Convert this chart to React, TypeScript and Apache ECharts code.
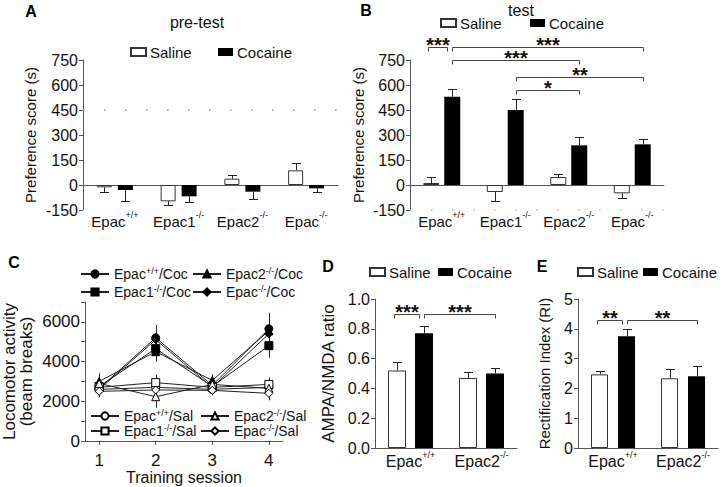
import React, { useEffect, useRef } from 'react';
import * as echarts from 'echarts';

const FONT = '"Liberation Sans", Arial, Helvetica, sans-serif';
const INK = '#111';
const AXIS = '#555';

// ---------- Panels A & B ----------
const genotypes = ['Epac+/+', 'Epac1-/-', 'Epac2-/-', 'Epac-/-'];
const preSaline = [-14, -98, 38, 88];
const preSalineErr = [30, 24, 24, 42];
const preCocaine = [-30, -68, -40, -20];
const preCocaineErr = [66, 36, 44, 24];

const testSaline = [12, -42, 48, -50];
const testSalineErr = [34, 52, 16, 30];
const testCocaine = [530, 450, 238, 244];
const testCocaineErr = [44, 66, 52, 30];
// [fromCategory, fromSide(-1 saline / 1 cocaine), toCategory, toSide, y value, stars]
const testBrackets: any[] = [
  [0, -1, 0, 1, 830, '***'],
  [0, 1, 3, 1, 830, '***'],
  [0, 1, 2, 1, 748, '***'],
  [1, 1, 3, 1, 650, '**'],
  [1, 1, 2, 1, 570, '*'],
];

// ---------- Panel C ----------
const sessions = [1, 2, 3, 4];
const locoNames = [
  'Epac+/+/Coc', 'Epac1-/-/Coc', 'Epac2-/-/Coc', 'Epac-/-/Coc',
  'Epac+/+/Sal', 'Epac1-/-/Sal', 'Epac2-/-/Sal', 'Epac-/-/Sal',
];
const cocWT = [2650, 5200, 2800, 5650];
const cocE1 = [2750, 4650, 2750, 4800];
const cocE2 = [3000, 4500, 3050, 5550];
const cocKO = [2600, 5100, 2700, 5400];
const salWT = [2600, 2700, 2600, 2700];
const salE1 = [2700, 2940, 2700, 2850];
const salE2 = [2900, 2230, 2850, 2650];
const salKO = [2500, 2570, 2550, 2400];
const cocWTErr = [350, 650, 250, 800];
const cocE1Err = [300, 550, 250, 600];
const cocE2Err = [400, 500, 300, 600];
const cocKOErr = [300, 600, 250, 700];
const salWTErr = [300, 400, 250, 350];
const salE1Err = [300, 400, 250, 350];
const salE2Err = [300, 560, 250, 350];
const salKOErr = [300, 400, 250, 350];
const locoValues = [cocWT, cocE1, cocE2, cocKO, salWT, salE1, salE2, salKO];
const locoErrors = [cocWTErr, cocE1Err, cocE2Err, cocKOErr, salWTErr, salE1Err, salE2Err, salKOErr];
const locoSymbols = ['circle', 'rect', 'triangle', 'diamond', 'circle', 'rect', 'triangle', 'diamond'];
const locoYTicks = [0, 2000, 4000, 6000];

// ---------- Panels D & E ----------
const sliceGenotypes = ['Epac+/+', 'Epac2-/-'];
const ampaSaline = [0.52, 0.47];
const ampaSalineErr = [0.06, 0.04];
const ampaCocaine = [0.77, 0.5];
const ampaCocaineErr = [0.05, 0.04];
const ampaBrackets: any[] = [
  [0, -1, 0, 1, 0.9, '***'],
  [0, 1, 1, 1, 0.9, '***'],
];
const riSaline = [2.47, 2.34];
const riSalineErr = [0.13, 0.3];
const riCocaine = [3.75, 2.41];
const riCocaineErr = [0.23, 0.35];
const riBrackets: any[] = [
  [0, -1, 0, 1, 4.3, '**'],
  [0, 1, 1, 1, 4.3, '**'],
];

function supParts(name: string) {
  const m = name.match(/^(Epac\d?)([+\-]\/[+\-])(.*)$/);
  if (!m) return `{b|${name}}`;
  return `{b|${m[1]}}{s|${m[2]}}` + (m[3] ? `{b|${m[3]}}` : '');
}

function richStyle(size: number, lh: number, supSize: number) {
  return {
    b: { fontSize: size, lineHeight: lh, color: INK, fontFamily: FONT },
    s: { fontSize: supSize, lineHeight: supSize, verticalAlign: 'top', color: INK, fontFamily: FONT },
  };
}

function catAxis(grid: number, data: string[], margin: number, size: number) {
  return {
    type: 'category', gridIndex: grid, data,
    axisLine: { show: true, onZero: true, lineStyle: { color: AXIS, width: 1 } },
    axisTick: { show: false },
    splitLine: { show: false },
    axisLabel: {
      interval: 0, margin,
      formatter: (v: string) => supParts(v),
      rich: richStyle(size, 22, 9),
    },
  };
}

function valAxis(grid: number, min: number, max: number, interval: number, name: string,
  nameGap: number, nameSize: number, labelSize: number, formatter?: any) {
  return {
    type: 'value', gridIndex: grid, min, max, interval,
    name, nameLocation: 'middle', nameGap,
    nameTextStyle: { fontSize: nameSize, color: INK, fontFamily: FONT, lineHeight: nameSize },
    axisLine: { show: true, lineStyle: { color: AXIS, width: 1 } },
    axisTick: { show: true, length: 4, lineStyle: { color: AXIS } },
    splitLine: { show: false },
    axisLabel: { fontSize: labelSize, color: INK, fontFamily: FONT, margin: 5, formatter },
  };
}

function barSeries(grid: number, name: string, data: number[], barWidth: number, barGap: string, extra: any = {}) {
  const saline = name === 'Saline';
  return {
    type: 'bar', name, xAxisIndex: grid, yAxisIndex: grid, data, barWidth, barGap,
    itemStyle: saline ? { color: '#fff', borderColor: '#333', borderWidth: 1 } : { color: '#000' },
    z: 2, silent: true, ...extra,
  };
}

function errSeries(grid: number, values: number[], errs: number[], offset: number) {
  return {
    type: 'custom', xAxisIndex: grid, yAxisIndex: grid, z: 3, silent: true, clip: false,
    data: values.map((v, i) => [i, v, errs[i]]),
    renderItem: (params: any, api: any) => {
      const i = api.value(0), v = api.value(1), e = api.value(2);
      const s = v >= 0 ? 1 : -1;
      const p0 = api.coord([i, v]);
      const p1 = api.coord([i, v + s * e]);
      const x = Math.round(p0[0] + offset) + 0.5;
      const y1 = Math.round(p1[1]) + 0.5;
      return {
        type: 'group', children: [
          { type: 'line', shape: { x1: x, y1: p0[1], x2: x, y2: y1 }, style: { stroke: '#222', lineWidth: 1 } },
          { type: 'line', shape: { x1: x - 4.5, y1, x2: x + 4.5, y2: y1 }, style: { stroke: '#222', lineWidth: 1 } },
        ],
      };
    },
  };
}

function bracketSeries(grid: number, brackets: any[], offset: number, starSize: number) {
  return {
    type: 'custom', xAxisIndex: grid, yAxisIndex: grid, z: 4, silent: true, clip: false,
    data: brackets.map((b) => [b[0], b[4]]),
    renderItem: (params: any, api: any) => {
      const b = brackets[params.dataIndex];
      let x1 = api.coord([b[0], b[4]])[0] + b[1] * offset;
      let x2 = api.coord([b[2], b[4]])[0] + b[3] * offset;
      if (b[0] === b[2]) { x1 -= 3; x2 -= 5; }
      x1 = Math.round(x1) + 0.5; x2 = Math.round(x2) + 0.5;
      const y = Math.round(api.coord([b[0], b[4]])[1]) + 0.5;
      return {
        type: 'group', children: [
          { type: 'polyline', shape: { points: [[x1, y + 4], [x1, y], [x2, y], [x2, y + 4]] },
            style: { stroke: '#444', fill: null, lineWidth: 1 } },
          { type: 'text', x: (x1 + x2) / 2, y: y - 3,
            style: { text: b[5], fontSize: starSize, fontWeight: 'bold', fontFamily: FONT, fill: INK,
              align: 'center', verticalAlign: 'middle' } },
        ],
      };
    },
  };
}

function barLegend(name: string, left: number, cy: number, size: number) {
  return {
    data: [name], left, top: cy - size / 2, padding: 0, itemGap: 0, icon: 'rect',
    itemWidth: 15, itemHeight: 8, selectedMode: false,
    textStyle: { fontSize: size, color: INK, fontFamily: FONT, padding: [0, 0, 0, -1] },
  };
}

function lineLegend(name: string, left: number, cy: number) {
  return {
    data: [name], left, top: cy - 8, padding: 0, itemGap: 0,
    itemWidth: 28, itemHeight: 9, selectedMode: false,
    formatter: (n: string) => supParts(n),
    textStyle: { fontSize: 14, color: INK, fontFamily: FONT, rich: richStyle(14, 16, 9) },
  };
}

function letter(text: string, x: number, y: number) {
  return { type: 'text', x, y, style: { text, fontSize: 16, fontWeight: 'bold', fontFamily: FONT, fill: '#000', align: 'center', verticalAlign: 'middle' } };
}

export default function App() {
  const ref = useRef<HTMLDivElement>(null);
  useEffect(() => {
    if (!ref.current) return;
    const chart = echarts.init(ref.current, undefined, { renderer: 'svg' });

    const locoSeries = locoNames.map((name, k) => ({
      type: 'line', name, xAxisIndex: 2, yAxisIndex: 2,
      data: sessions.map((s, i) => [s, locoValues[k][i]]),
      symbol: locoSymbols[k], symbolSize: 8,
      lineStyle: { color: '#222', width: 1 },
      itemStyle: { color: k < 4 ? '#000' : '#fff', borderColor: '#000', borderWidth: 1 },
      z: 3, silent: true,
    }));

    const locoErr = {
      type: 'custom', xAxisIndex: 2, yAxisIndex: 2, z: 2, silent: true, clip: false,
      data: locoValues.flatMap((vals, k) => vals.map((v, i) => [sessions[i], v, locoErrors[k][i]])),
      renderItem: (params: any, api: any) => {
        const x = api.value(0), v = api.value(1), e = api.value(2);
        const p0 = api.coord([x, v - e]);
        const p1 = api.coord([x, v + e]);
        const px = Math.round(p0[0]) + 0.5;
        return { type: 'line', shape: { x1: px, y1: p0[1], x2: px, y2: p1[1] }, style: { stroke: '#222', lineWidth: 1 } };
      },
    };

    const option: any = {
      animation: false,
      textStyle: { fontFamily: FONT },
      grid: [
        { left: 83, top: 60, width: 255, height: 150 },
        { left: 410, top: 60, width: 254, height: 150 },
        { left: 85, top: 302, width: 198, height: 139 },
        { left: 375, top: 299, width: 142, height: 149 },
        { left: 578, top: 299, width: 140, height: 149 },
      ],
      xAxis: [
        catAxis(0, genotypes, 0, 15),
        catAxis(1, genotypes, 0, 15),
        {
          type: 'value', gridIndex: 2, min: 0.75, max: 4.25,
          name: 'Training session', nameLocation: 'middle', nameGap: 28,
          nameTextStyle: { fontSize: 16, color: INK, fontFamily: FONT },
          axisLine: { show: true, onZero: false, lineStyle: { color: AXIS } },
          axisTick: { show: true, length: 4, customValues: sessions, lineStyle: { color: AXIS } },
          axisLabel: { customValues: sessions, fontSize: 17, color: INK, fontFamily: FONT, margin: 11 },
          splitLine: { show: false },
        },
        catAxis(3, sliceGenotypes, 2, 16),
        catAxis(4, sliceGenotypes, 2, 16),
      ],
      yAxis: [
        valAxis(0, -150, 750, 150, 'Preference score (s)', 45, 15, 16),
        valAxis(1, -150, 750, 150, 'Preference score (s)', 44, 15, 16),
        valAxis(2, 0, 7000, 1000, 'Locomotor activity\n(beam breaks)', 50, 17, 17,
          (v: number) => (locoYTicks.includes(v) ? String(v) : '')),
        valAxis(3, 0, 1, 0.2, 'AMPA/NMDA ratio', 38, 17, 16, (v: number) => v.toFixed(1)),
        valAxis(4, 0, 5, 1, 'Rectification Index (RI)', 26, 15, 16),
      ],
      legend: [
        barLegend('Saline', 130, 52, 15),
        barLegend('Cocaine', 218, 52, 15),
        barLegend('Saline', 440, 23, 15),
        barLegend('Cocaine', 530, 23, 15),
        barLegend('Saline', 369, 272, 15),
        barLegend('Cocaine', 438, 272, 15),
        barLegend('Saline', 577, 272, 15),
        barLegend('Cocaine', 643, 272, 15),
        lineLegend(locoNames[0], 80, 274),
        lineLegend(locoNames[2], 192, 274),
        lineLegend(locoNames[1], 80, 292),
        lineLegend(locoNames[3], 192, 292),
        lineLegend(locoNames[4], 90, 416),
        lineLegend(locoNames[6], 200, 416),
        lineLegend(locoNames[5], 90, 431),
        lineLegend(locoNames[7], 200, 431),
      ],
      series: [
        barSeries(0, 'Saline', preSaline, 15, '40%', {
          markLine: { silent: true, symbol: 'none', label: { show: false },
            lineStyle: { type: [1.5, 19.5], color: '#999', width: 1.5 }, data: [{ yAxis: 450 }] },
        }),
        barSeries(0, 'Cocaine', preCocaine, 15, '40%'),
        errSeries(0, preSaline, preSalineErr, -10.5),
        errSeries(0, preCocaine, preCocaineErr, 10.5),

        barSeries(1, 'Saline', testSaline, 16, '31%', {
          markLine: { silent: true, symbol: 'none', label: { show: false },
            lineStyle: { type: [1.5, 19.5], color: '#bbb', width: 1.5 }, data: [{ yAxis: -150 }] },
        }),
        barSeries(1, 'Cocaine', testCocaine, 16, '31%'),
        errSeries(1, testSaline, testSalineErr, -10.5),
        errSeries(1, testCocaine, testCocaineErr, 10.5),
        bracketSeries(1, testBrackets, 10.5, 20),

        ...locoSeries,
        locoErr,

        barSeries(3, 'Saline', ampaSaline, 18, '50%'),
        barSeries(3, 'Cocaine', ampaCocaine, 18, '50%'),
        errSeries(3, ampaSaline, ampaSalineErr, -13.5),
        errSeries(3, ampaCocaine, ampaCocaineErr, 13.5),
        bracketSeries(3, ampaBrackets, 13.5, 20),

        barSeries(4, 'Saline', riSaline, 17, '59%'),
        barSeries(4, 'Cocaine', riCocaine, 17, '59%'),
        errSeries(4, riSaline, riSalineErr, -13.5),
        errSeries(4, riCocaine, riCocaineErr, 13.5),
        bracketSeries(4, riBrackets, 13.5, 20),
      ],
      graphic: [
        letter('A', 31, 11),
        letter('B', 366, 10),
        letter('C', 14, 262),
        letter('D', 328, 266),
        letter('E', 542, 266),
        { type: 'text', x: 197, y: 22, style: { text: 'pre-test', fontSize: 16, fontFamily: FONT, fill: INK, align: 'center', verticalAlign: 'middle' } },
        { type: 'text', x: 521, y: 10, style: { text: 'test', fontSize: 16, fontFamily: FONT, fill: INK, align: 'center', verticalAlign: 'middle' } },
      ],
    };
    chart.setOption(option);
    return () => chart.dispose();
  }, []);
  return <div ref={ref} style={{ position: 'absolute', left: 0, top: 0, width: 720, height: 487, background: '#fff' }} />;
}
